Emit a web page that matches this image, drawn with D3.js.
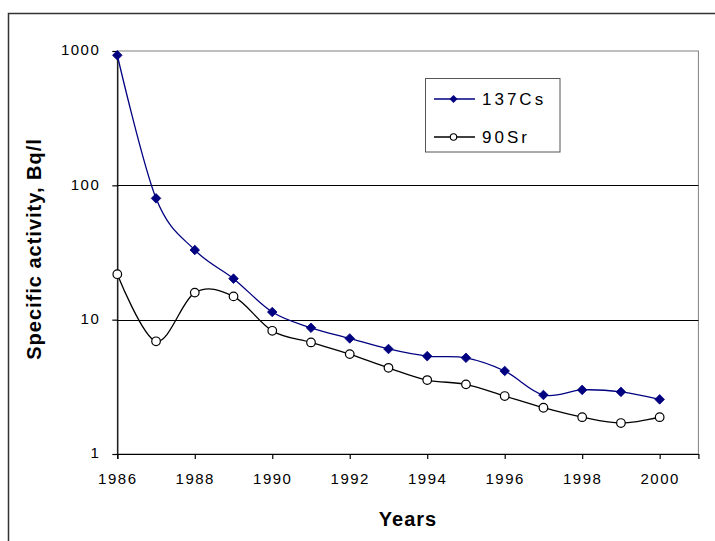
<!DOCTYPE html>
<html>
<head>
<meta charset="utf-8">
<script src="https://cdn.jsdelivr.net/npm/d3@7"></script>
<style>
  html, body { margin: 0; padding: 0; background: #fff; }
  svg { display: block; }
  text { font-family: "Liberation Sans", Arial, sans-serif; fill: #000; }
</style>
</head>
<body>
<svg id="chart" width="715" height="541"></svg>
<script>
const years = [1986, 1987, 1988, 1989, 1990, 1991, 1992, 1993, 1994, 1995, 1996, 1997, 1998, 1999, 2000];
const cs137 = [930, 80, 33, 20.2, 11.4, 8.7, 7.25, 6.05, 5.35, 5.2, 4.15, 2.75, 3.0, 2.9, 2.55];
const sr90 = [21.8, 6.9, 15.9, 14.9, 8.26, 6.77, 5.54, 4.38, 3.55, 3.3, 2.7, 2.21, 1.88, 1.7, 1.88];
const xTicks = [1986, 1988, 1990, 1992, 1994, 1996, 1998, 2000];
const yTicks = [1, 10, 100, 1000];
const seriesNames = ["137Cs", "90Sr"];

const svg = d3.select("#chart");
const L = 117.3, R = 698.4, T = 51, B = 454;

const x = d3.scaleLinear().domain([1986, 2001]).range([L, R]);
const y = d3.scaleLog().domain([1, 1000]).range([B, T]);

// outer chart frame
svg.append("rect").attr("x", 8.5).attr("y", 13.5).attr("width", 800).attr("height", 600)
  .attr("fill", "none").attr("stroke", "#333").attr("stroke-width", 1.5);

// plot area border (top/right gray)
svg.append("rect").attr("x", L).attr("y", T).attr("width", R - L).attr("height", B - T)
  .attr("fill", "none").attr("stroke", "#808080").attr("stroke-width", 1);

// gridlines
svg.append("g").selectAll("line").data(yTicks.filter(d => d > 1 && d < 1000)).join("line")
  .attr("x1", L).attr("x2", R)
  .attr("y1", d => Math.round(y(d)) + 0.5).attr("y2", d => Math.round(y(d)) + 0.5)
  .attr("stroke", "#000").attr("stroke-width", 1);

// axes
const xAxis = svg.append("g").attr("transform", `translate(0,${B})`)
  .call(d3.axisBottom(x).tickValues(xTicks).tickFormat(d3.format("d")).tickSize(5).tickSizeOuter(5).tickPadding(14));
const yAxis = svg.append("g").attr("transform", `translate(${L},0)`)
  .call(d3.axisLeft(y).tickValues(yTicks).tickFormat(d3.format("d")).tickSize(5).tickSizeOuter(0).tickPadding(12));
[xAxis, yAxis].forEach(g => {
  g.selectAll("path, line").attr("stroke", "#000").attr("stroke-width", 1.2);
  g.selectAll("text").attr("font-size", 15).attr("letter-spacing", "1.5px")
    .attr("font-family", "'Liberation Sans', Arial, sans-serif").attr("fill", "#000");
});
yAxis.selectAll("text").attr("dy", "0.25em");

// lines
const line = (vals) => d3.line()
  .x((d, i) => x(years[i])).y(d => y(d))
  .curve(d3.curveCatmullRom.alpha(0))(vals);

svg.append("path").attr("d", line(sr90)).attr("fill", "none").attr("stroke", "#000").attr("stroke-width", 1.3);
svg.append("path").attr("d", line(cs137)).attr("fill", "none").attr("stroke", "#000080").attr("stroke-width", 1.3);

const diamond = d3.symbol().type(d3.symbolDiamond2 || d3.symbolSquare).size(50);
function diamondPath(s) { return `M0,${-s}L${s},0L0,${s}L${-s},0Z`; }

svg.append("g").selectAll("path").data(cs137).join("path")
  .attr("transform", (d, i) => `translate(${x(years[i])},${y(d)})`)
  .attr("d", diamondPath(4.8)).attr("fill", "#000080").attr("stroke", "#000080").attr("stroke-width", 0.8);

svg.append("g").selectAll("circle").data(sr90).join("circle")
  .attr("cx", (d, i) => x(years[i])).attr("cy", d => y(d)).attr("r", 4.3)
  .attr("fill", "#fff").attr("stroke", "#000").attr("stroke-width", 1.2);

// legend
const lg = svg.append("g");
lg.append("rect").attr("x", 425.5).attr("y", 78.5).attr("width", 134.5).attr("height", 73.5)
  .attr("fill", "#fff").attr("stroke", "#555").attr("stroke-width", 1);
const rows = [99, 137];
lg.append("line").attr("x1", 434).attr("x2", 475).attr("y1", rows[0]).attr("y2", rows[0]).attr("stroke", "#000080").attr("stroke-width", 1.3);
lg.append("path").attr("transform", `translate(453.5,${rows[0]})`).attr("d", diamondPath(4)).attr("fill", "#000080");
lg.append("line").attr("x1", 434).attr("x2", 475).attr("y1", rows[1]).attr("y2", rows[1]).attr("stroke", "#000").attr("stroke-width", 1.3);
lg.append("circle").attr("cx", 453.5).attr("cy", rows[1]).attr("r", 3.2).attr("fill", "#fff").attr("stroke", "#000").attr("stroke-width", 1.1);
lg.selectAll("text.lab").data(seriesNames).join("text").attr("class", "lab")
  .attr("x", 482).attr("y", (d, i) => rows[i] + 6)
  .attr("font-size", 17).attr("letter-spacing", "3px").text(d => d);

// axis titles
svg.append("text").attr("x", 408).attr("y", 526).attr("text-anchor", "middle")
  .attr("font-size", 20).attr("font-weight", "bold").attr("letter-spacing", "1px").text("Years");
svg.append("text").attr("transform", "translate(41,249) rotate(-90)").attr("text-anchor", "middle")
  .attr("font-size", 20).attr("font-weight", "bold").attr("letter-spacing", "1px").text("Specific activity, Bq/l");
</script>
</body>
</html>
